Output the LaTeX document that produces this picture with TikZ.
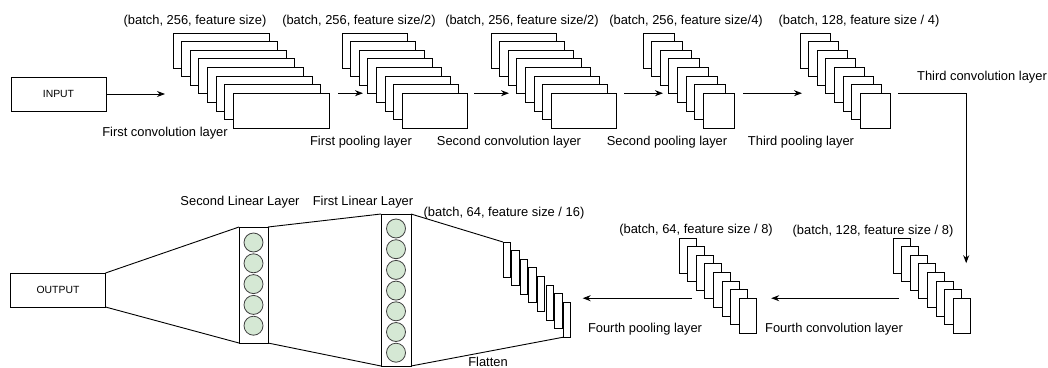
\documentclass[tikz,border=0pt]{standalone}
\usepackage{fontspec}
\setmainfont{Liberation Sans}
\usetikzlibrary{calc,arrows.meta}
\definecolor{nodegreen}{HTML}{D5E8D4}
\newcommand{\layerstack}[6]{%
  \foreach \i in {1,...,#6}{%
    \node[layer, minimum width=#4pt, minimum height=#5pt, anchor=north west]
      (#1-\i) at ({#2+(\i-1)*8.6},{#3+(\i-1)*8.6}) {};
  }%
}
\begin{document}
\begin{tikzpicture}[x=1pt,y=-1pt,
  layer/.style={draw=black, fill=white, line width=0.9pt, inner sep=0pt, outer sep=0pt},
  iobox/.style={draw=black, fill=white, line width=0.9pt, inner sep=0pt, outer sep=0pt,
    minimum width=95pt, minimum height=34pt, font=\fontsize{10.4}{12}\selectfont},
  linbox/.style={draw=black, fill=white, line width=0.9pt, inner sep=0pt, outer sep=0pt},
  neuron/.style={circle, draw=black!75, fill=nodegreen, line width=0.8pt, minimum size=19pt, inner sep=0pt},
  lbl/.style={font=\fontsize{12.9}{15}\selectfont, inner sep=0pt},
  arr/.style={-{Stealth[length=8pt,width=6pt]}, line width=0.9pt},
  edge/.style={line width=0.9pt}]
\useasboundingbox (0,0) rectangle (1048,367);

% input / output
\node[iobox] (input) at (58.5,94) {INPUT};
\node[iobox] (output) at (58,290) {OUTPUT};

% stacks
\layerstack{c1}{173}{33}{96}{35}{8}
\layerstack{p1}{342}{33}{65}{35}{8}
\layerstack{c2}{491}{33}{65}{35}{8}
\layerstack{p2}{643}{33}{31}{35}{8}
\layerstack{p3}{800}{33}{30}{35}{8}
\layerstack{c4}{893}{238}{17}{35}{8}
\layerstack{p4}{679}{238}{17}{35}{8}
\layerstack{fl}{503}{242}{7.5}{35}{8}

% linear layers
\node[linbox, minimum width=30pt, minimum height=152pt, anchor=north west] (lin1) at (381,214) {};
\node[linbox, minimum width=29pt, minimum height=116pt, anchor=north west] (lin2) at (239,227) {};
\foreach \k in {0,...,6}{\node[neuron] (n1-\k) at (396,{228.5+\k*20.7}) {};}
\foreach \k in {0,...,4}{\node[neuron] (n2-\k) at (253.5,{242.5+\k*20.8}) {};}

% arrows
\draw[arr] (input.east) -- ($(input.east -| c1-1.west)+(-8,0)$);
\draw[arr] ($(c1-8.north east)+(9,0)$) -- ($(p1-1.west |- c1-8.north east)+(21,0)$);
\draw[arr] ($(p1-8.north east)+(7,0)$) -- ($(c2-1.west |- p1-8.north east)+(18,0)$);
\draw[arr] ($(c2-8.north east)+(8,0)$) -- ($(p2-1.west |- c2-8.north east)+(20,0)$);
\draw[arr] ($(p2-8.north east)+(9,0)$) -- ($(p3-1.west |- p2-8.north east)+(2,0)$);
\draw[arr] ($(p3-8.north east)+(8,0)$) -| ($(c4-8.north west)+(13,-35)$);
\draw[arr] ($(c4-1.west |- c4-8.north)+(6,0)$) -- ($(p4-8.north east)+(15,0)$);
\draw[arr] ($(p4-1.west |- p4-8.north)+(13,0)$) -- ($(fl-8.east |- p4-8.north)+(12,0)$);

% trapezoid lines
\draw[edge] (output.north east) -- (lin2.north west);
\draw[edge] (output.south east) -- (lin2.south west);
\draw[edge] (lin2.north east) -- (lin1.north west);
\draw[edge] (lin2.south east) -- (lin1.south west);
\draw[edge] (lin1.north east) -- (fl-1.north west);
\draw[edge] (lin1.south east) -- (fl-8.south west);

% labels
\node[lbl] (t1) at (195,21) {(batch, 256, feature size)};
\node[lbl] (t2) at (165,133) {First convolution layer};
\node[lbl] (t3) at (359,21) {(batch, 256, feature size/2)};
\node[lbl] (t4) at (361,142) {First pooling layer};
\node[lbl] (t5) at (522,21) {(batch, 256, feature size/2)};
\node[lbl] (t6) at (509,142) {Second convolution layer};
\node[lbl] (t7) at (686,21) {(batch, 256, feature size/4)};
\node[lbl] (t8) at (667,142) {Second pooling layer};
\node[lbl] (t9) at (859,21) {(batch, 128, feature size / 4)};
\node[lbl] (t10) at (801,142) {Third pooling layer};
\node[lbl] (t11) at (982,77) {Third convolution layer};
\node[lbl] (t12) at (873,231) {(batch, 128, feature size / 8)};
\node[lbl] (t13) at (834,329) {Fourth convolution layer};
\node[lbl] (t14) at (696,230) {(batch, 64, feature size / 8)};
\node[lbl] (t15) at (645,329) {Fourth pooling layer};
\node[lbl] (t16) at (504,213) {(batch, 64, feature size / 16)};
\node[lbl] (t17) at (488,361.5) {Flatten};
\node[lbl] (t18) at (363,202) {First Linear Layer};
\node[lbl] (t19) at (240,202) {Second Linear Layer};
\end{tikzpicture}
\end{document}
